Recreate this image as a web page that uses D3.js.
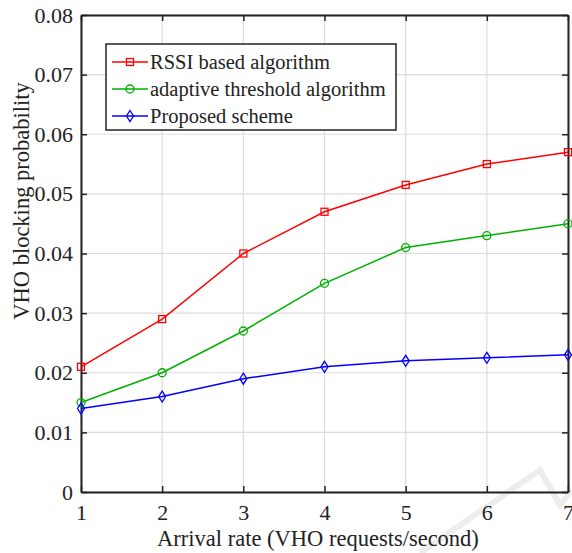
<!DOCTYPE html>
<html><head><meta charset="utf-8">
<script src="https://cdn.jsdelivr.net/npm/d3@7"></script>
<style>body{margin:0;background:#fff}svg{display:block}svg text{font-family:"Liberation Serif","Times New Roman",Times,"DejaVu Serif",serif !important;fill:#222}</style>
</head><body><svg id="c" width="572" height="553"></svg>
<script>
const xVals = [1,2,3,4,5,6,7];
const xTickLabels = ["1","2","3","4","5","6","7"];
const rssi = [0.021,0.029,0.040,0.047,0.0515,0.055,0.057];
const adaptive = [0.015,0.020,0.027,0.035,0.041,0.043,0.045];
const proposed = [0.014,0.016,0.019,0.021,0.022,0.0225,0.023];
const seriesNames = ["RSSI based algorithm","adaptive threshold algorithm","Proposed scheme"];
const yTicks = [0,0.01,0.02,0.03,0.04,0.05,0.06,0.07,0.08];
const yTickLabels = ["0","0.01","0.02","0.03","0.04","0.05","0.06","0.07","0.08"];

const FONT = '"Liberation Serif","Times New Roman",Times,serif';
const svg = d3.select("#c");
const L=81, R=568, T=15, B=492;
const x = d3.scaleLinear().domain([1,7]).range([L,R]);
const y = d3.scaleLinear().domain([0,0.08]).range([B,T]);

// watermark
svg.append("path").attr("d","M420,553 L540,470 L560,505 L572,490").attr("fill","none").attr("stroke","#ededed").attr("stroke-width",6);

// grid
const g = svg.append("g");
g.selectAll(".gx").data(xVals).join("line").attr("x1",d=>x(d)).attr("x2",d=>x(d)).attr("y1",T).attr("y2",B).attr("stroke","#dcdcdc").attr("stroke-width",1.2);
g.selectAll(".gy").data(yTicks).join("line").attr("x1",L).attr("x2",R).attr("y1",d=>y(d)).attr("y2",d=>y(d)).attr("stroke","#dcdcdc").attr("stroke-width",1.2);

// axes with inward ticks
const ax = svg.append("g").attr("transform",`translate(0,${B})`).call(d3.axisBottom(x).tickValues(xVals).tickFormat((d,i)=>xTickLabels[i]).tickSizeInner(-6).tickSizeOuter(0).tickPadding(13));
const ay = svg.append("g").attr("transform",`translate(${L},0)`).call(d3.axisLeft(y).tickValues(yTicks).tickFormat((d,i)=>yTickLabels[i]).tickSizeInner(-6).tickSizeOuter(0).tickPadding(8));
const at = svg.append("g").attr("transform",`translate(0,${T})`).call(d3.axisTop(x).tickValues(xVals).tickSizeInner(-6).tickSizeOuter(0).tickFormat(""));
const ar = svg.append("g").attr("transform",`translate(${R},0)`).call(d3.axisRight(y).tickValues(yTicks).tickSizeInner(-6).tickSizeOuter(0).tickFormat(""));
[ax,ay,at,ar].forEach(a=>{a.attr("font-family",FONT).attr("font-size",22);a.select(".domain").attr("stroke","#222").attr("stroke-width",2);a.selectAll(".tick line").attr("stroke","#222").attr("stroke-width",1.5);a.selectAll("text").attr("font-family",FONT).style("font-size","22px").attr("fill","#222");});
ax.selectAll(".tick text").attr("dy","0.68em");

const series = [
 {name:seriesNames[0],vals:rssi,color:"#ff0000",marker:"square"},
 {name:seriesNames[1],vals:adaptive,color:"#00b000",marker:"circle"},
 {name:seriesNames[2],vals:proposed,color:"#0000ff",marker:"diamond"}
];
function drawMarker(sel,m,color){
  if(m==="square") sel.append("rect").attr("x",-3.5).attr("y",-3.5).attr("width",7).attr("height",7).attr("fill","none").attr("stroke",color).attr("stroke-width",1.3);
  else if(m==="circle") sel.append("circle").attr("r",4).attr("fill","none").attr("stroke",color).attr("stroke-width",1.3);
  else sel.append("path").attr("d","M0,-5.5L3.5,0L0,5.5L-3.5,0Z").attr("fill","none").attr("stroke",color).attr("stroke-width",1.3);
}
const line = d3.line().x((d,i)=>x(xVals[i])).y(d=>y(d));
series.forEach(s=>{
  svg.append("path").attr("d",line(s.vals)).attr("fill","none").attr("stroke",s.color).attr("stroke-width",1.5);
  s.vals.forEach((v,i)=>{const gg=svg.append("g").attr("transform",`translate(${x(xVals[i])},${y(v)})`);drawMarker(gg,s.marker,s.color);});
});

// legend
const lg = svg.append("g");
lg.append("rect").attr("x",106).attr("y",44).attr("width",290).attr("height",86).attr("fill","#fff").attr("stroke","#222").attr("stroke-width",1.5);
series.forEach((s,i)=>{
  const yy = 62+i*27;
  lg.append("line").attr("x1",112).attr("x2",148).attr("y1",yy).attr("y2",yy).attr("stroke",s.color).attr("stroke-width",1.5);
  const gg=lg.append("g").attr("transform",`translate(130,${yy})`);drawMarker(gg,s.marker,s.color);
  lg.append("text").attr("x",150).attr("y",yy).attr("dy","0.35em").attr("font-family",FONT).style("font-size","20.5px").text(s.name);
});

// axis titles
svg.append("text").attr("x",318).attr("y",546).attr("text-anchor","middle").attr("font-family",FONT).style("font-size","22.5px").text("Arrival rate (VHO requests/second)");
svg.append("text").attr("transform",`translate(29,201) rotate(-90)`).attr("text-anchor","middle").attr("font-family",FONT).style("font-size","22.5px").text("VHO blocking probability");
</script></body></html>
